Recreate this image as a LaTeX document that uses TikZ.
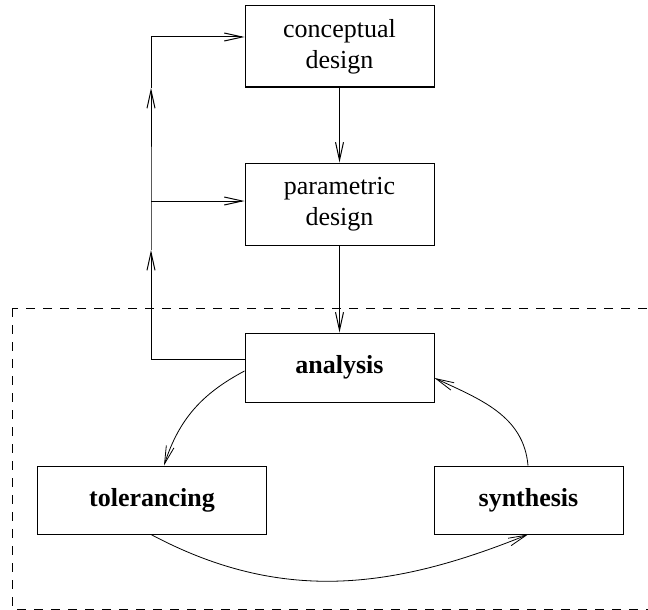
\documentclass[tikz,border=0pt]{standalone}
\usepackage{fontspec}
\setmainfont{Liberation Serif}
\usepackage{tikz}
\usetikzlibrary{arrows.meta}

\begin{document}
\begin{tikzpicture}[x=1pt,y=-1pt,line width=1pt,
    stage/.style={draw,rectangle,inner sep=0pt,align=center,
      font=\fontsize{26}{31}\selectfont},
    task/.style={stage,font=\fontsize{26}{31}\selectfont\bfseries},
    >={Straight Barb[length=18pt,width=8pt]}]
  \useasboundingbox (0,0) rectangle (648,610);
  \clip (0,0) rectangle (648,610);
  % design stages
  \node[stage,minimum width=189pt,minimum height=81pt] (concept) at (339.5,46.5) {conceptual\\design};
  \node[stage,minimum width=189pt,minimum height=82pt] (param) at (339.5,204) {parametric\\design};
  \node[task,minimum width=189pt,minimum height=69pt] (analysis) at (339.5,367.5) {analysis};
  \node[task,minimum width=229pt,minimum height=68pt] (toler) at (152,500) {tolerancing};
  \node[task,minimum width=189pt,minimum height=68pt] (synth) at (528.5,500) {synthesis};
  % feedback line
  \coordinate (c0) at (151,359);
  \coordinate (c1) at (151,37);
  \coordinate (c2) at (151,201);
  \coordinate (u1) at (151,250);
  \coordinate (u2) at (151,88);
  \draw[->] (analysis.west |- c0) -- (c0) -- (u1);
  \draw[->] (u1) -- (c2) -- (u2);
  \draw[->] (u2) -- (c1) -- (concept.west |- c1);
  \draw[->] (c2) -- (param.west |- c2);
  \draw[->] (concept) -- (param);
  \draw[->] (param) -- (analysis);
  % loop
  \draw[->,line width=0.8pt] ([yshift=-3.5pt]analysis.west) to[out=208,in=72] ([xshift=12pt]toler.north);
  \draw[->,line width=0.8pt] ([xshift=-1pt]toler.south) to[out=-28,in=-158] ([xshift=-0.5pt]synth.south);
  \draw[->,line width=0.8pt] ([xshift=-0.5pt]synth.north) to[out=95,in=-25] ([yshift=-10.5pt]analysis.east);
  % boundary
  \coordinate (b1) at (12,308);
  \coordinate (b2) at (700,609);
  \draw[dash pattern=on 9pt off 8pt] (b1) rectangle (b2);
\end{tikzpicture}
\end{document}
